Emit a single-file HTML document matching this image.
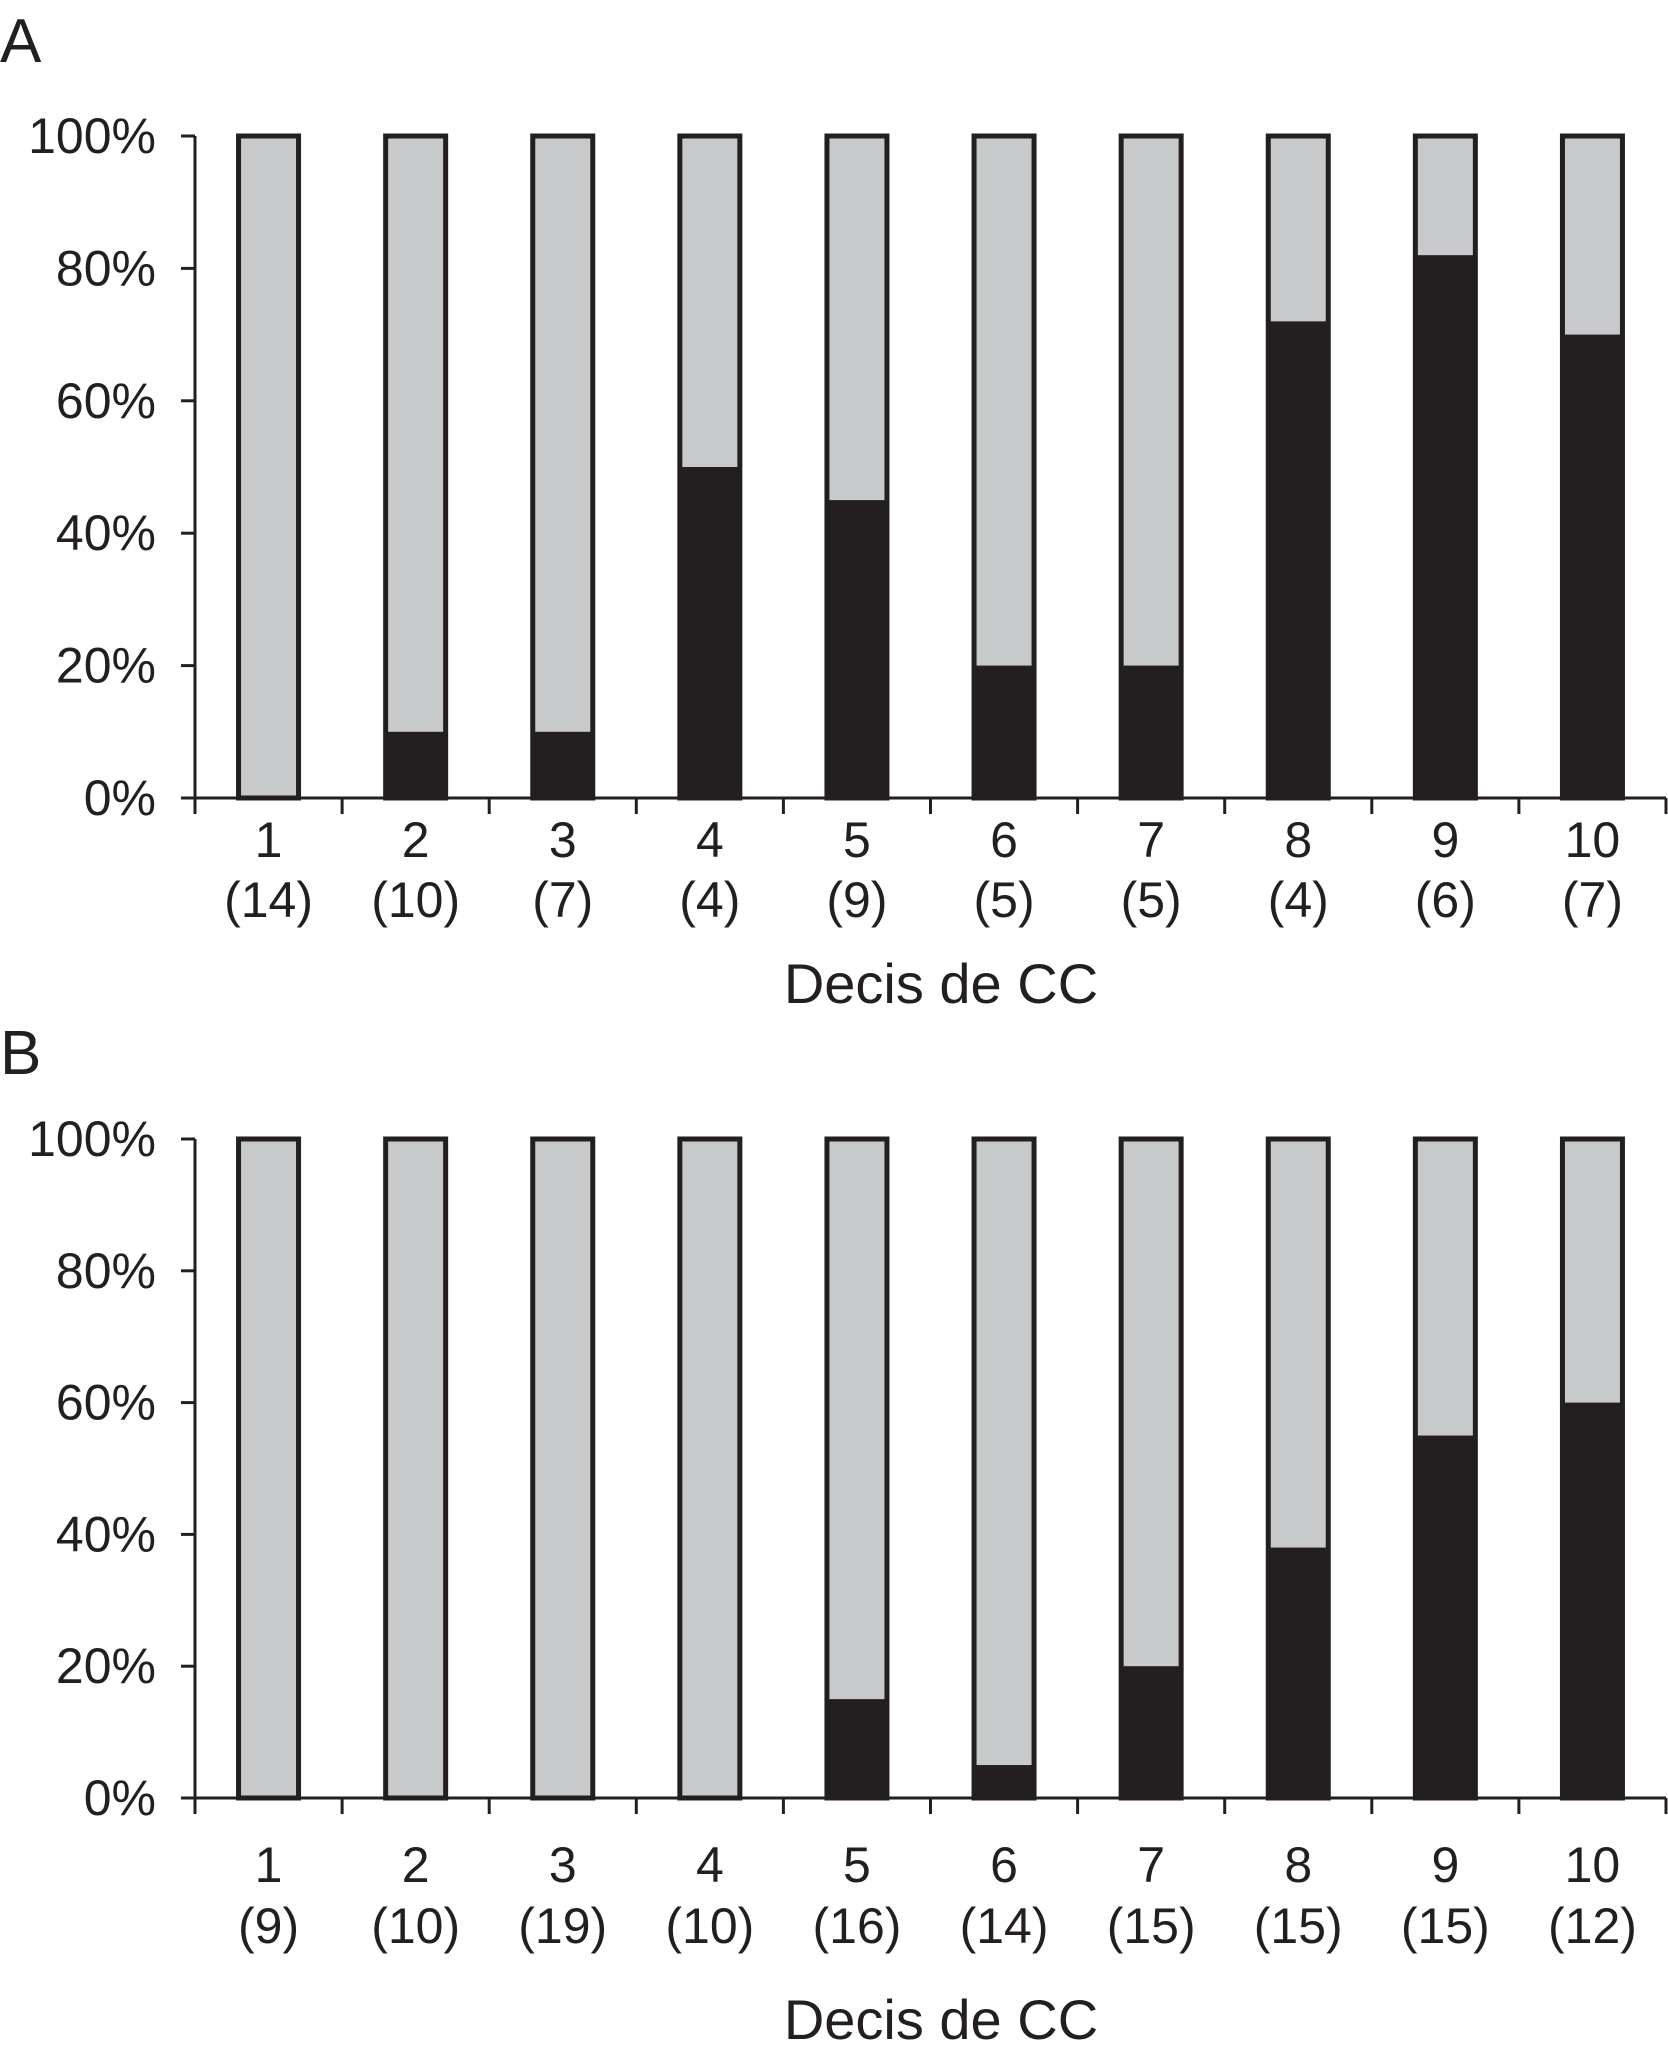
<!DOCTYPE html>
<html><head><meta charset="utf-8"><style>
html,body{margin:0;padding:0;background:#fff;}
svg{display:block;font-family:"Liberation Sans",Arial,sans-serif;}
</style></head><body>
<svg id="chart" width="1668" height="2053" viewBox="0 0 1668 2053" xmlns="http://www.w3.org/2000/svg"></svg>
<script>
const categories = ["1","2","3","4","5","6","7","8","9","10"];
const countsA = ["(14)","(10)","(7)","(4)","(9)","(5)","(5)","(4)","(6)","(7)"];
const countsB = ["(9)","(10)","(19)","(10)","(16)","(14)","(15)","(15)","(15)","(12)"];
const blackA = [0,10,10,50,45,20,20,72,82,70];
const blackB = [0,0,0,0,15,5,20,38,55,60];
const yTicks = [0,20,40,60,80,100];
const yTickLabels = ["0%","20%","40%","60%","80%","100%"];

const svg = document.getElementById('chart');
const NS = 'http://www.w3.org/2000/svg';
function el(tag, attrs, parent){
  const e = document.createElementNS(NS, tag);
  for (const k in attrs) e.setAttribute(k, attrs[k]);
  (parent||svg).appendChild(e);
  return e;
}
const X0 = 195, X1 = 1666;
const pitch = (X1 - X0) / categories.length;
const barW = 60;
function xCenter(i){ return X0 + pitch*(i+0.5); }

function panel(letter, letterY, yTop, yBot, blacks, counts, labY1, labY2, titleY, key){
  const g = el('g', {});
  
  
  const y = v => yBot - (yBot - yTop) * v / 100;
  const t = el('text', {x: 0, y: letterY, 'font-size': 62, fill: '#231f20'}, g);
  t.textContent = letter;
  
  
  const ya = el('line', {x1: X0, y1: yTop, x2: X0, y2: yBot, stroke: '#231f20', 'stroke-width': 3}, g);
  
  
  yTicks.forEach((v, i) => {
    el('line', {x1: X0 - 14, y1: y(v), x2: X0, y2: y(v), stroke: '#231f20', 'stroke-width': 3}, g);
    const tl = el('text', {x: 156, y: y(v) + 17, 'font-size': 50, 'text-anchor': 'end', fill: '#231f20'}, g);
    tl.textContent = yTickLabels[i];
    
    
  });
  categories.forEach((c, i) => {
    const cx = xCenter(i), x = cx - barW/2;
    const bg = el('g', {}, g);
    
    
    el('rect', {x: x, y: yTop, width: barW, height: yBot - yTop, fill: '#c8c9cb'}, bg);
    if (blacks[i] > 0) el('rect', {x: x, y: y(blacks[i]), width: barW, height: yBot - y(blacks[i]), fill: '#231f20'}, bg);
    el('rect', {x: x, y: yTop, width: barW, height: yBot - yTop, fill: 'none', stroke: '#231f20', 'stroke-width': 5}, bg);
    const l1 = el('text', {x: cx, y: labY1, 'font-size': 50, 'text-anchor': 'middle', fill: '#231f20'}, g);
    l1.textContent = c;
    
    
    const l2 = el('text', {x: cx, y: labY2, 'font-size': 50, 'text-anchor': 'middle', fill: '#231f20'}, g);
    l2.textContent = counts[i];
    
    
  });
  const xa = el('line', {x1: X0, y1: yBot, x2: X1, y2: yBot, stroke: '#231f20', 'stroke-width': 3}, g);
  
  
  for (let i = 0; i <= categories.length; i++) {
    el('line', {x1: X0 + pitch*i, y1: yBot, x2: X0 + pitch*i, y2: yBot + 16, stroke: '#231f20', 'stroke-width': 3}, g);
  }
  const tt = el('text', {x: 941, y: titleY, 'font-size': 56, 'text-anchor': 'middle', fill: '#231f20'}, g);
  tt.textContent = 'Decis de CC';
  
  
}
panel('A', 62, 136, 798, blackA, countsA, 857, 917, 1003, 'a');
panel('B', 1074, 1139, 1798, blackB, countsB, 1882, 1943, 2039, 'b');
</script>
</body></html>
